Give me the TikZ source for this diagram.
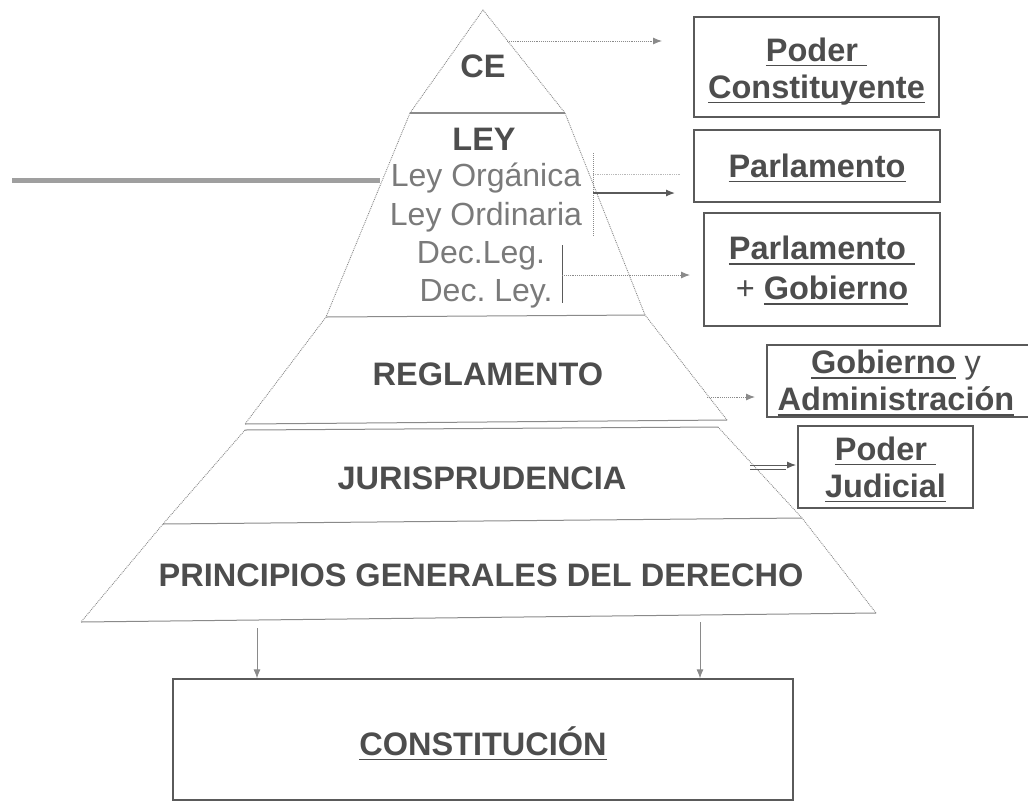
\documentclass[tikz,border=0pt]{standalone}
\usepackage{fontspec}
\setmainfont{Liberation Sans}
\usetikzlibrary{arrows.meta}
\definecolor{txt}{HTML}{4D4D4D}
\definecolor{subtxt}{HTML}{7A7A7A}
\definecolor{edge}{HTML}{8A8A8A}
\definecolor{boxc}{HTML}{5A5A5A}
\newcommand{\myul}[1]{\setbox0=\hbox{#1}\rlap{\rule[-5pt]{\wd0}{1.6pt}}\box0}
\begin{document}
\begin{tikzpicture}[x=1pt,y=-1pt,
  lbl/.style={font=\fontsize{32.5}{38}\selectfont\bfseries, text=txt, inner sep=0pt},
  sublbl/.style={font=\fontsize{32}{38}\selectfont, text=subtxt, inner sep=0pt},
  infobox/.style={draw=boxc, line width=1.3pt, inner sep=0pt},
  boxtext/.style={align=center, text=txt, font=\fontsize{32.5}{37}\selectfont\bfseries, inner sep=0pt},
  side/.style={draw=edge, line width=0.9pt, densely dotted},
  sep/.style={draw=edge, line width=1pt},
  tip/.style={-{Latex[length=9pt,width=7pt]}},
  dotarrow/.style={tip, draw=edge, line width=0.9pt, densely dotted, color=edge},
  solidarrow/.style={tip, draw=boxc, line width=1.2pt, color=boxc}
]
\useasboundingbox (0,0) rectangle (1028,807);

% pyramid vertices
\coordinate (A) at (483,10);
\coordinate (L1) at (410,113); \coordinate (R1) at (565,113);
\coordinate (L2) at (326,317); \coordinate (R2) at (645,315);
\coordinate (L3) at (245,424); \coordinate (R3) at (727,420);
\coordinate (L3b) at (245,430); \coordinate (R3b) at (718,427);
\coordinate (L4) at (163,524); \coordinate (R4) at (802,518);
\coordinate (L5) at (81,622); \coordinate (R5) at (876,613);

\path[side] (L1) -- (A) -- (R1);
\path[side] (L1) -- (L2) -- (L3);
\path[side] (R1) -- (R2) -- (R3);
\path[side] (L3b) -- (L4) -- (L5);
\path[side] (R3b) -- (R4) -- (R5);
\path[sep, line width=2pt] (L1) -- (R1);
\path[sep] (L2) -- (R2);
\path[sep] (L3) -- (R3);
\path[sep] (L3b) -- (R3b);
\path[sep] (L4) -- (R4);
\path[sep] (L5) -- (R5);

% thick grey line at left
\coordinate (g1) at (12,180);
\coordinate (g2) at (380,180);
\draw[line width=5pt, color=gray!75] (g1) -- (g2);

% pyramid labels
\node[lbl] (ce) at (483,66) {CE};
\node[lbl] (ley) at (484,139) {LEY};
\node[sublbl] (lo) at (486,178) {Ley Orgánica};
\node[sublbl] (lord) at (486,217) {Ley Ordinaria};
\node[sublbl] (dleg) at (481,256) {Dec.Leg.};
\node[sublbl] (dley) at (486,294) {Dec.\ Ley.};
\node[lbl] (regl) at (488,374) {REGLAMENTO};
\node[lbl] (juris) at (482,478) {JURISPRUDENCIA};
\node[lbl] (princ) at (481,575) {PRINCIPIOS GENERALES DEL DERECHO};

% boxes on the right
\node[infobox, minimum width=245pt, minimum height=100pt] (pc) at (816.5,67) {};
\node[boxtext] (pct) at ([yshift=-4.5pt]pc.center) {\myul{Poder\ }\\\myul{Constituyente}};
\node[infobox, minimum width=246pt, minimum height=72pt] (parl) at (817,166) {};
\node[boxtext] (parlt) at ([yshift=-2pt]parl.center) {\myul{Parlamento}};
\node[infobox, minimum width=236pt, minimum height=113pt] (pg) at (822,269.5) {};
\node[boxtext, font=\fontsize{32.5}{40}\selectfont\bfseries] (pgt) at ([yshift=-1pt]pg.center)
  {\myul{Parlamento\ }\\{\mdseries +} \myul{Gobierno}};
\coordinate (ga1) at (1028,345); \coordinate (ga2) at (767,345);
\coordinate (ga3) at (767,417); \coordinate (ga4) at (1028,417);
\draw[draw=boxc, line width=1.3pt] (ga1) -- (ga2) -- (ga3) -- (ga4);
\node[boxtext] (ga) at (896,383) {\myul{Gobierno}{\mdseries\ y}\\\myul{Administración}};
\node[infobox, minimum width=175pt, minimum height=82pt] (pj) at (885.5,467) {};
\node[boxtext] (pjt) at ([yshift=-2.5pt]pj.center) {\myul{Poder\ }\\\myul{Judicial}};

% constitution box
\node[infobox, minimum width=620pt, minimum height=121pt] (const) at (483,739.5) {};
\node[boxtext] (constt) at ([yshift=-4pt]const.center) {\myul{CONSTITUCIÓN}};

% connectors
\coordinate (ceA) at (507,41); \coordinate (ceB) at (662,41);
\draw[dotarrow] (ceA) -- (ceB);

\coordinate (bk1) at (593,153); \coordinate (bk2) at (593,236);
\draw[draw=edge, line width=1pt, densely dotted] (bk1) -- (bk2);
\coordinate (bkA) at (593,193); \coordinate (bkB) at (675,193);
\draw[solidarrow] (bkA) -- (bkB);
\coordinate (bkC) at (593,174); \coordinate (bkD) at (680,174);
\draw[draw=edge!60, line width=0.8pt, densely dotted] (bkC) -- (bkD);

\coordinate (dk1) at (562,245); \coordinate (dk2) at (562,303);
\draw[draw=boxc, line width=1pt] (dk1) -- (dk2);
\coordinate (dkA) at (562,275); \coordinate (dkB) at (690,275);
\draw[dotarrow] (dkA) -- (dkB);

\coordinate (rgA) at (707,397); \coordinate (rgB) at (755,397);
\draw[dotarrow] (rgA) -- (rgB);

\coordinate (jrA) at (750,465); \coordinate (jrB) at (796,465);
\coordinate (jrC) at (750,469); \coordinate (jrD) at (786,469);
\draw[draw=boxc, line width=0.9pt] (jrC) -- (jrD);
\draw[solidarrow, line width=0.9pt] (jrA) -- (jrB);

\coordinate (bA) at (257,628);
\draw[tip, draw=edge, color=edge, line width=0.9pt] (bA) -- (bA |- const.north);
\coordinate (bB) at (700,622);
\draw[tip, draw=edge, color=edge, line width=0.9pt] (bB) -- (bB |- const.north);
\end{tikzpicture}
\end{document}
